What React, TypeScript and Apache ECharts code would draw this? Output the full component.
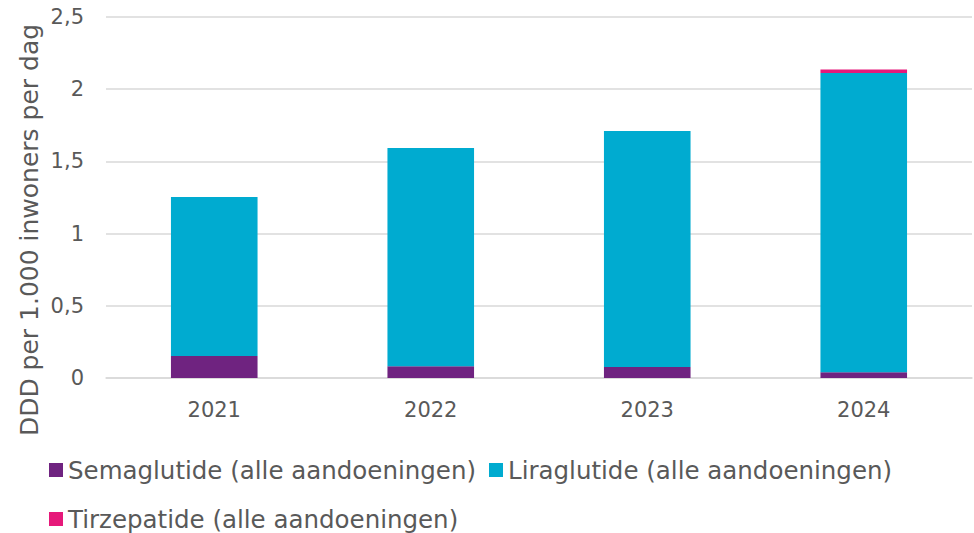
import React, { useEffect, useRef } from "react";
import * as echarts from "echarts";

const years = ["2021", "2022", "2023", "2024"];
const semaglutide = [0.152, 0.081, 0.076, 0.039];
const liraglutide = [1.101, 1.512, 1.634, 2.073];
const tirzepatide = [0, 0, 0, 0.024];
const seriesNames = [
  "Semaglutide (alle aandoeningen)",
  "Liraglutide (alle aandoeningen)",
  "Tirzepatide (alle aandoeningen)",
];
const yAxisName = "DDD per 1.000 inwoners per dag";

const FONT = "'DejaVu Sans', sans-serif";
const TEXT = "#595959";

export default function App() {
  const ref = useRef<HTMLDivElement>(null);
  useEffect(() => {
    if (!ref.current) return;
    const chart = echarts.init(ref.current, undefined, { renderer: "svg" });
    const colors = ["#6f2380", "#00abd0", "#e6197a"];
    const legendCommon = {
      left: 44,
      itemWidth: 14,
      itemHeight: 14,
      itemGap: 13,
      icon: "rect",
      textStyle: { fontSize: 24.5, color: TEXT, fontFamily: FONT, lineHeight: 26 },
    };
    chart.setOption({
      animation: false,
      color: colors,
      textStyle: { fontFamily: FONT },
      grid: { left: 106, right: 2, top: 17, bottom: 155 },
      legend: [
        { ...legendCommon, data: [seriesNames[0], seriesNames[1]], top: 452 },
        { ...legendCommon, data: [seriesNames[2]], top: 501 },
      ],
      graphic: [
        {
          type: "text",
          x: 29,
          y: 230,
          rotation: Math.PI / 2,
          style: {
            text: yAxisName,
            fontSize: 25,
            fontFamily: FONT,
            fill: TEXT,
            align: "center",
            verticalAlign: "middle",
          },
        },
      ],
      xAxis: {
        type: "category",
        data: years,
        axisLine: { lineStyle: { color: "#d9d9d9", width: 1.5 } },
        axisTick: { show: false },
        axisLabel: { fontSize: 21, color: TEXT, margin: 21, fontFamily: FONT },
      },
      yAxis: {
        type: "value",
        min: 0,
        max: 2.5,
        interval: 0.5,
        axisLine: { show: false },
        axisTick: { show: false },
        splitLine: { lineStyle: { color: "#d9d9d9", width: 1.5 } },
        axisLabel: {
          fontSize: 21,
          color: TEXT,
          margin: 22,
          fontFamily: FONT,
          formatter: (v: number) => String(v).replace(".", ","),
        },
      },
      series: [
        { name: seriesNames[0], type: "bar", stack: "t", barWidth: "40%", data: semaglutide },
        { name: seriesNames[1], type: "bar", stack: "t", barWidth: "40%", data: liraglutide },
        { name: seriesNames[2], type: "bar", stack: "t", barWidth: "40%", data: tirzepatide },
      ],
    });
    return () => chart.dispose();
  }, []);
  return (
    <div
      ref={ref}
      style={{ position: "absolute", left: 0, top: 0, width: 974, height: 533 }}
    />
  );
}
